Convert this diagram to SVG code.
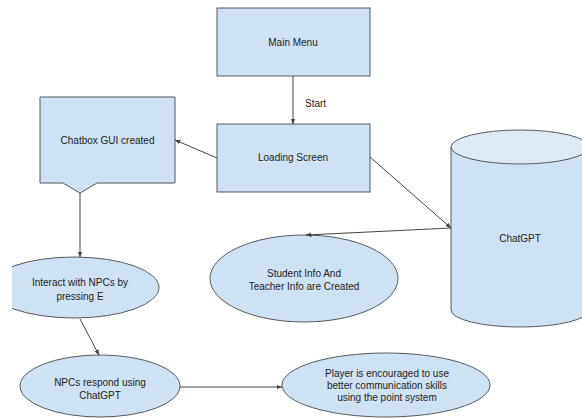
<svg xmlns="http://www.w3.org/2000/svg" width="582" height="418" viewBox="0 0 582 418">
<style>
.n{fill:#cfe2f3;stroke:#595959;stroke-width:1}
.t{font-family:"Liberation Sans",Arial,sans-serif;font-size:10px;fill:#222;text-anchor:middle}
.c{fill:none;stroke:#444;stroke-width:1}
</style>
<defs>
<marker id="a" viewBox="0 0 6 6" refX="5.5" refY="3" markerWidth="6" markerHeight="6" orient="auto" markerUnits="userSpaceOnUse">
<path d="M0,0.8 L6,3 L0,5.2 Z" fill="#444"/>
</marker>
<clipPath id="cl"><rect x="12" y="0" width="570" height="418"/></clipPath>
</defs>
<rect width="582" height="418" fill="#fff"/>
<g id="main-menu"><rect class="n" x="217" y="8" width="153" height="68"/><text class="t" x="293" y="46">Main Menu</text></g>
<g id="loading-screen"><rect class="n" x="217" y="124" width="153" height="68"/><text class="t" x="293" y="161">Loading Screen</text></g>
<g id="chatbox"><path class="n" d="M40,97 H175 V183 H97 L80,193 L63,183 H40 Z"/><text class="t" x="107.5" y="143.5">Chatbox GUI created</text></g>
<g id="chatgpt">
<path class="n" d="M451,147 V310 A69,17 0 0 0 589,310 V147 Z"/>
<ellipse cx="520" cy="147" rx="69" ry="17" fill="#dde9f5" stroke="#595959"/>
<text class="t" x="520" y="241.5">ChatGPT</text></g>
<g id="student-info"><ellipse class="n" cx="304" cy="278.5" rx="94" ry="43.5"/><text class="t" x="304" y="276.5">Student Info And</text><text class="t" x="304" y="289.5">Teacher Info are Created</text></g>
<g id="interact"><ellipse class="n" cx="74" cy="287.5" rx="85" ry="30.5" clip-path="url(#cl)"/><text class="t" x="80" y="286">Interact with NPCs by</text><text class="t" x="80" y="300">pressing E</text></g>
<g id="npcs-respond"><ellipse class="n" cx="100" cy="386" rx="80" ry="31"/><text class="t" x="100" y="386">NPCs respond using</text><text class="t" x="100" y="398.5">ChatGPT</text></g>
<g id="player"><ellipse class="n" cx="386" cy="385" rx="104" ry="32"/><text class="t" x="387" y="377">Player is encouraged to use</text><text class="t" x="387" y="389">better communication skills</text><text class="t" x="387" y="401">using the point system</text></g>
<g id="connectors">
<line class="c" x1="293" y1="76" x2="293" y2="124" marker-end="url(#a)"/>
<text class="t" x="305" y="106.5" style="text-anchor:start">Start</text>
<line class="c" x1="217" y1="158" x2="175" y2="140" marker-end="url(#a)"/>
<line class="c" x1="370" y1="157" x2="451" y2="228" marker-end="url(#a)"/>
<line class="c" x1="451" y1="228" x2="306" y2="235" marker-end="url(#a)"/>
<line class="c" x1="80" y1="193" x2="80" y2="257" marker-end="url(#a)"/>
<line class="c" x1="80" y1="319" x2="99" y2="355" marker-end="url(#a)"/>
<line class="c" x1="180" y1="387" x2="282" y2="387" marker-end="url(#a)"/>
</g>
</svg>
